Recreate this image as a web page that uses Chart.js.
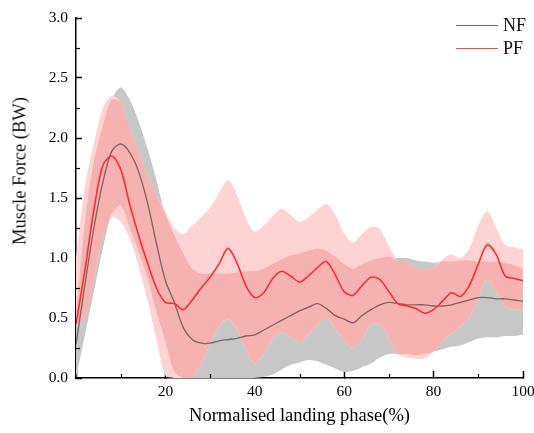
<!DOCTYPE html>
<html>
<head>
<meta charset="utf-8">
<script src="https://cdn.jsdelivr.net/npm/chart.js@4.4.1/dist/chart.umd.min.js"></script>
<style>
  html, body { margin: 0; padding: 0; background: #fff; }
  #wrap { position: relative; width: 534px; height: 433px; }
  #yTitle {
    position: absolute; left: 20px; top: 171px;
    transform: translate(-50%, -50%) rotate(-90deg);
    white-space: nowrap; font: 18.5px 'Liberation Serif', serif; color: #111;
  }
  .legend {
    position: absolute; left: 456px; height: 20px; line-height: 20px;
    font: 18px 'Liberation Serif', serif; color: #111; display: flex; align-items: center;
  }
  .legend .swatch { display: inline-block; width: 42px; height: 0; border-top: 1.5px solid; margin-right: 5px; }
</style>
</head>
<body>
<div id="wrap">
  <canvas id="chart"></canvas>
  <div id="yTitle">Muscle Force (BW)</div>
  <div class="legend" style="top:15px"><span class="swatch" style="border-color:#6a6a6a"></span>NF</div>
  <div class="legend" style="top:38px"><span class="swatch" style="border-color:#ff4545"></span>PF</div>
</div>
<script>
// landing phase (%)
const phase = [0,2,4,6,8,10,12,14,16,18,20,22,24,26,28,30,32,34,36,38,40,42,44,46,48,50,
  52,54,56,58,60,62,64,66,68,70,72,74,76,78,80,82,84,86,88,90,92,94,96,98,100];

// NF mean and band
const nfMean = [0.28,0.78,1.25,1.63,1.89,1.95,1.88,1.72,1.46,1.12,0.81,0.63,0.42,0.32,0.29,0.29,0.31,0.32,0.33,0.35,0.36,0.40,0.44,0.48,0.52,0.56,
  0.59,0.62,0.58,0.52,0.49,0.46,0.52,0.57,0.61,0.63,0.62,0.61,0.61,0.61,0.60,0.60,0.61,0.63,0.65,0.67,0.67,0.66,0.66,0.65,0.64];
const nfUpper = [0.50,1.30,1.80,2.10,2.32,2.42,2.32,2.14,1.91,1.65,1.36,1.19,1.04,0.91,0.87,0.87,0.87,0.87,0.88,0.89,0.89,0.91,0.95,0.99,1.02,1.04,
  1.06,1.08,1.06,1.01,0.95,0.91,0.95,0.98,1.00,1.01,1.00,1.00,0.98,0.97,0.96,0.97,0.97,0.98,0.98,0.97,0.97,0.97,0.96,0.94,0.91];
const nfLower = [0.00,0.36,0.72,1.08,1.36,1.44,1.25,1.05,0.83,0.55,0.30,0.05,0.00,0.00,0.00,0.00,0.00,0.00,0.00,0.00,0.00,0.01,0.03,0.07,0.11,0.13,
  0.15,0.14,0.11,0.08,0.05,0.06,0.09,0.12,0.17,0.20,0.20,0.20,0.19,0.20,0.22,0.24,0.26,0.27,0.30,0.33,0.34,0.34,0.35,0.35,0.36];

// PF mean and band
const pfMean = [0.45,0.90,1.40,1.77,1.85,1.74,1.45,1.19,0.96,0.75,0.63,0.62,0.57,0.65,0.75,0.84,0.95,1.08,0.96,0.77,0.67,0.71,0.83,0.89,0.85,0.80,
  0.85,0.92,0.97,0.86,0.72,0.69,0.77,0.84,0.82,0.72,0.62,0.60,0.58,0.54,0.57,0.64,0.71,0.68,0.77,0.95,1.11,1.03,0.85,0.83,0.81];
const pfUpper = [1.00,1.60,1.95,2.25,2.35,2.30,2.08,1.88,1.69,1.53,1.39,1.25,1.20,1.27,1.34,1.42,1.54,1.65,1.53,1.33,1.22,1.27,1.35,1.41,1.36,1.30,
  1.34,1.40,1.45,1.36,1.20,1.13,1.20,1.26,1.24,1.10,0.98,0.96,0.92,0.90,0.92,0.99,1.03,1.00,1.08,1.27,1.39,1.25,1.11,1.09,1.07];
const pfLower = [0.43,0.50,0.82,1.17,1.34,1.30,1.16,0.93,0.65,0.32,0.02,0.00,0.00,0.00,0.12,0.28,0.43,0.49,0.41,0.24,0.12,0.20,0.33,0.38,0.34,0.30,
  0.36,0.45,0.50,0.41,0.31,0.25,0.32,0.44,0.45,0.33,0.20,0.17,0.16,0.16,0.22,0.30,0.37,0.43,0.50,0.66,0.82,0.72,0.59,0.57,0.57];

// unlabelled minor ticks
const minorX = [10,30,50,70,90];
const minorY = [0.25,0.75,1.25,1.75,2.25,2.75];

const pts = arr => phase.map((x, i) => ({ x, y: arr[i] }));
const overlapTop = nfUpper.map((v, i) => Math.min(v, pfUpper[i]));
const overlapBottom = nfLower.map((v, i) => Math.max(v, pfLower[i]));

const band = { borderWidth: 0, borderColor: 'transparent', pointRadius: 0, tension: 0.3 };

const minorTicks = {
  id: 'minorTicks',
  afterDraw(chart) {
    const { ctx, chartArea, scales: { x, y } } = chart;
    ctx.save();
    ctx.strokeStyle = '#000';
    ctx.lineWidth = 1.2;
    minorX.forEach(v => {
      const px = Math.round(x.getPixelForValue(v)) + 0.5;
      ctx.beginPath(); ctx.moveTo(px, chartArea.bottom); ctx.lineTo(px, chartArea.bottom - 4); ctx.stroke();
    });
    minorY.forEach(v => {
      const py = Math.round(y.getPixelForValue(v)) + 0.5;
      ctx.beginPath(); ctx.moveTo(chartArea.left, py); ctx.lineTo(chartArea.left + 4, py); ctx.stroke();
    });
    ctx.restore();
  }
};

const serif = 'Liberation Serif';

new Chart(document.getElementById('chart'), {
  type: 'line',
  data: {
    datasets: [
      { label: 'PF', data: pts(pfMean), borderColor: '#ff2b2b', borderWidth: 1.6, pointRadius: 0, tension: 0.3, fill: false, order: 0 },
      { label: 'NF', data: pts(nfMean), borderColor: 'rgba(70,55,55,0.65)', borderWidth: 1.3, pointRadius: 0, tension: 0.3, fill: false, order: 1 },
      { ...band, label: 'overlap', data: pts(overlapTop), fill: { target: 3, above: '#f6b1b1', below: 'rgba(0,0,0,0)' }, order: 2 },
      { ...band, label: 'overlap low', data: pts(overlapBottom), fill: false, order: 2 },
      { ...band, label: 'PF upper', data: pts(pfUpper), backgroundColor: '#ffd3d3', fill: 5, order: 3 },
      { ...band, label: 'PF lower', data: pts(pfLower), fill: false, order: 3 },
      { ...band, label: 'NF upper', data: pts(nfUpper), backgroundColor: '#c7c7c7', fill: 7, order: 4 },
      { ...band, label: 'NF lower', data: pts(nfLower), fill: false, order: 4 }
    ]
  },
  options: {
    responsive: true,
    maintainAspectRatio: false,
    animation: false,
    layout: { padding: { top: 18, right: 11, left: 0, bottom: 0 } },
    plugins: { legend: { display: false }, tooltip: { enabled: false } },
    scales: {
      x: {
        type: 'linear', min: 0, max: 100,
        border: { display: true, color: '#000', width: 1.5 },
        grid: { drawOnChartArea: false, drawTicks: true, tickLength: -7, tickColor: '#000', tickWidth: 1.5 },
        ticks: { stepSize: 20, color: '#000', padding: 12, maxRotation: 0,
          font: { family: serif, size: 15.5 }, callback: v => (v === 0 ? '' : v) },
        title: { display: true, text: 'Normalised landing phase(%)', color: '#000',
          font: { family: serif, size: 18.5 }, padding: { top: 0, bottom: 6 } },
        afterFit: s => { s.height = 55; s.paddingLeft = 0; s.paddingRight = 0; }
      },
      y: {
        min: 0, max: 3,
        border: { display: true, color: '#000', width: 1.5 },
        grid: { drawOnChartArea: false, drawTicks: true, tickLength: -6, tickColor: '#000', tickWidth: 1.5 },
        ticks: { stepSize: 0.5, color: '#000', padding: 14,
          font: { family: serif, size: 15.5 }, callback: v => v.toFixed(1) },
        afterFit: s => { s.width = 76; s.paddingTop = 0; s.paddingBottom = 0; }
      }
    }
  },
  plugins: [minorTicks]
});
</script>
</body>
</html>
